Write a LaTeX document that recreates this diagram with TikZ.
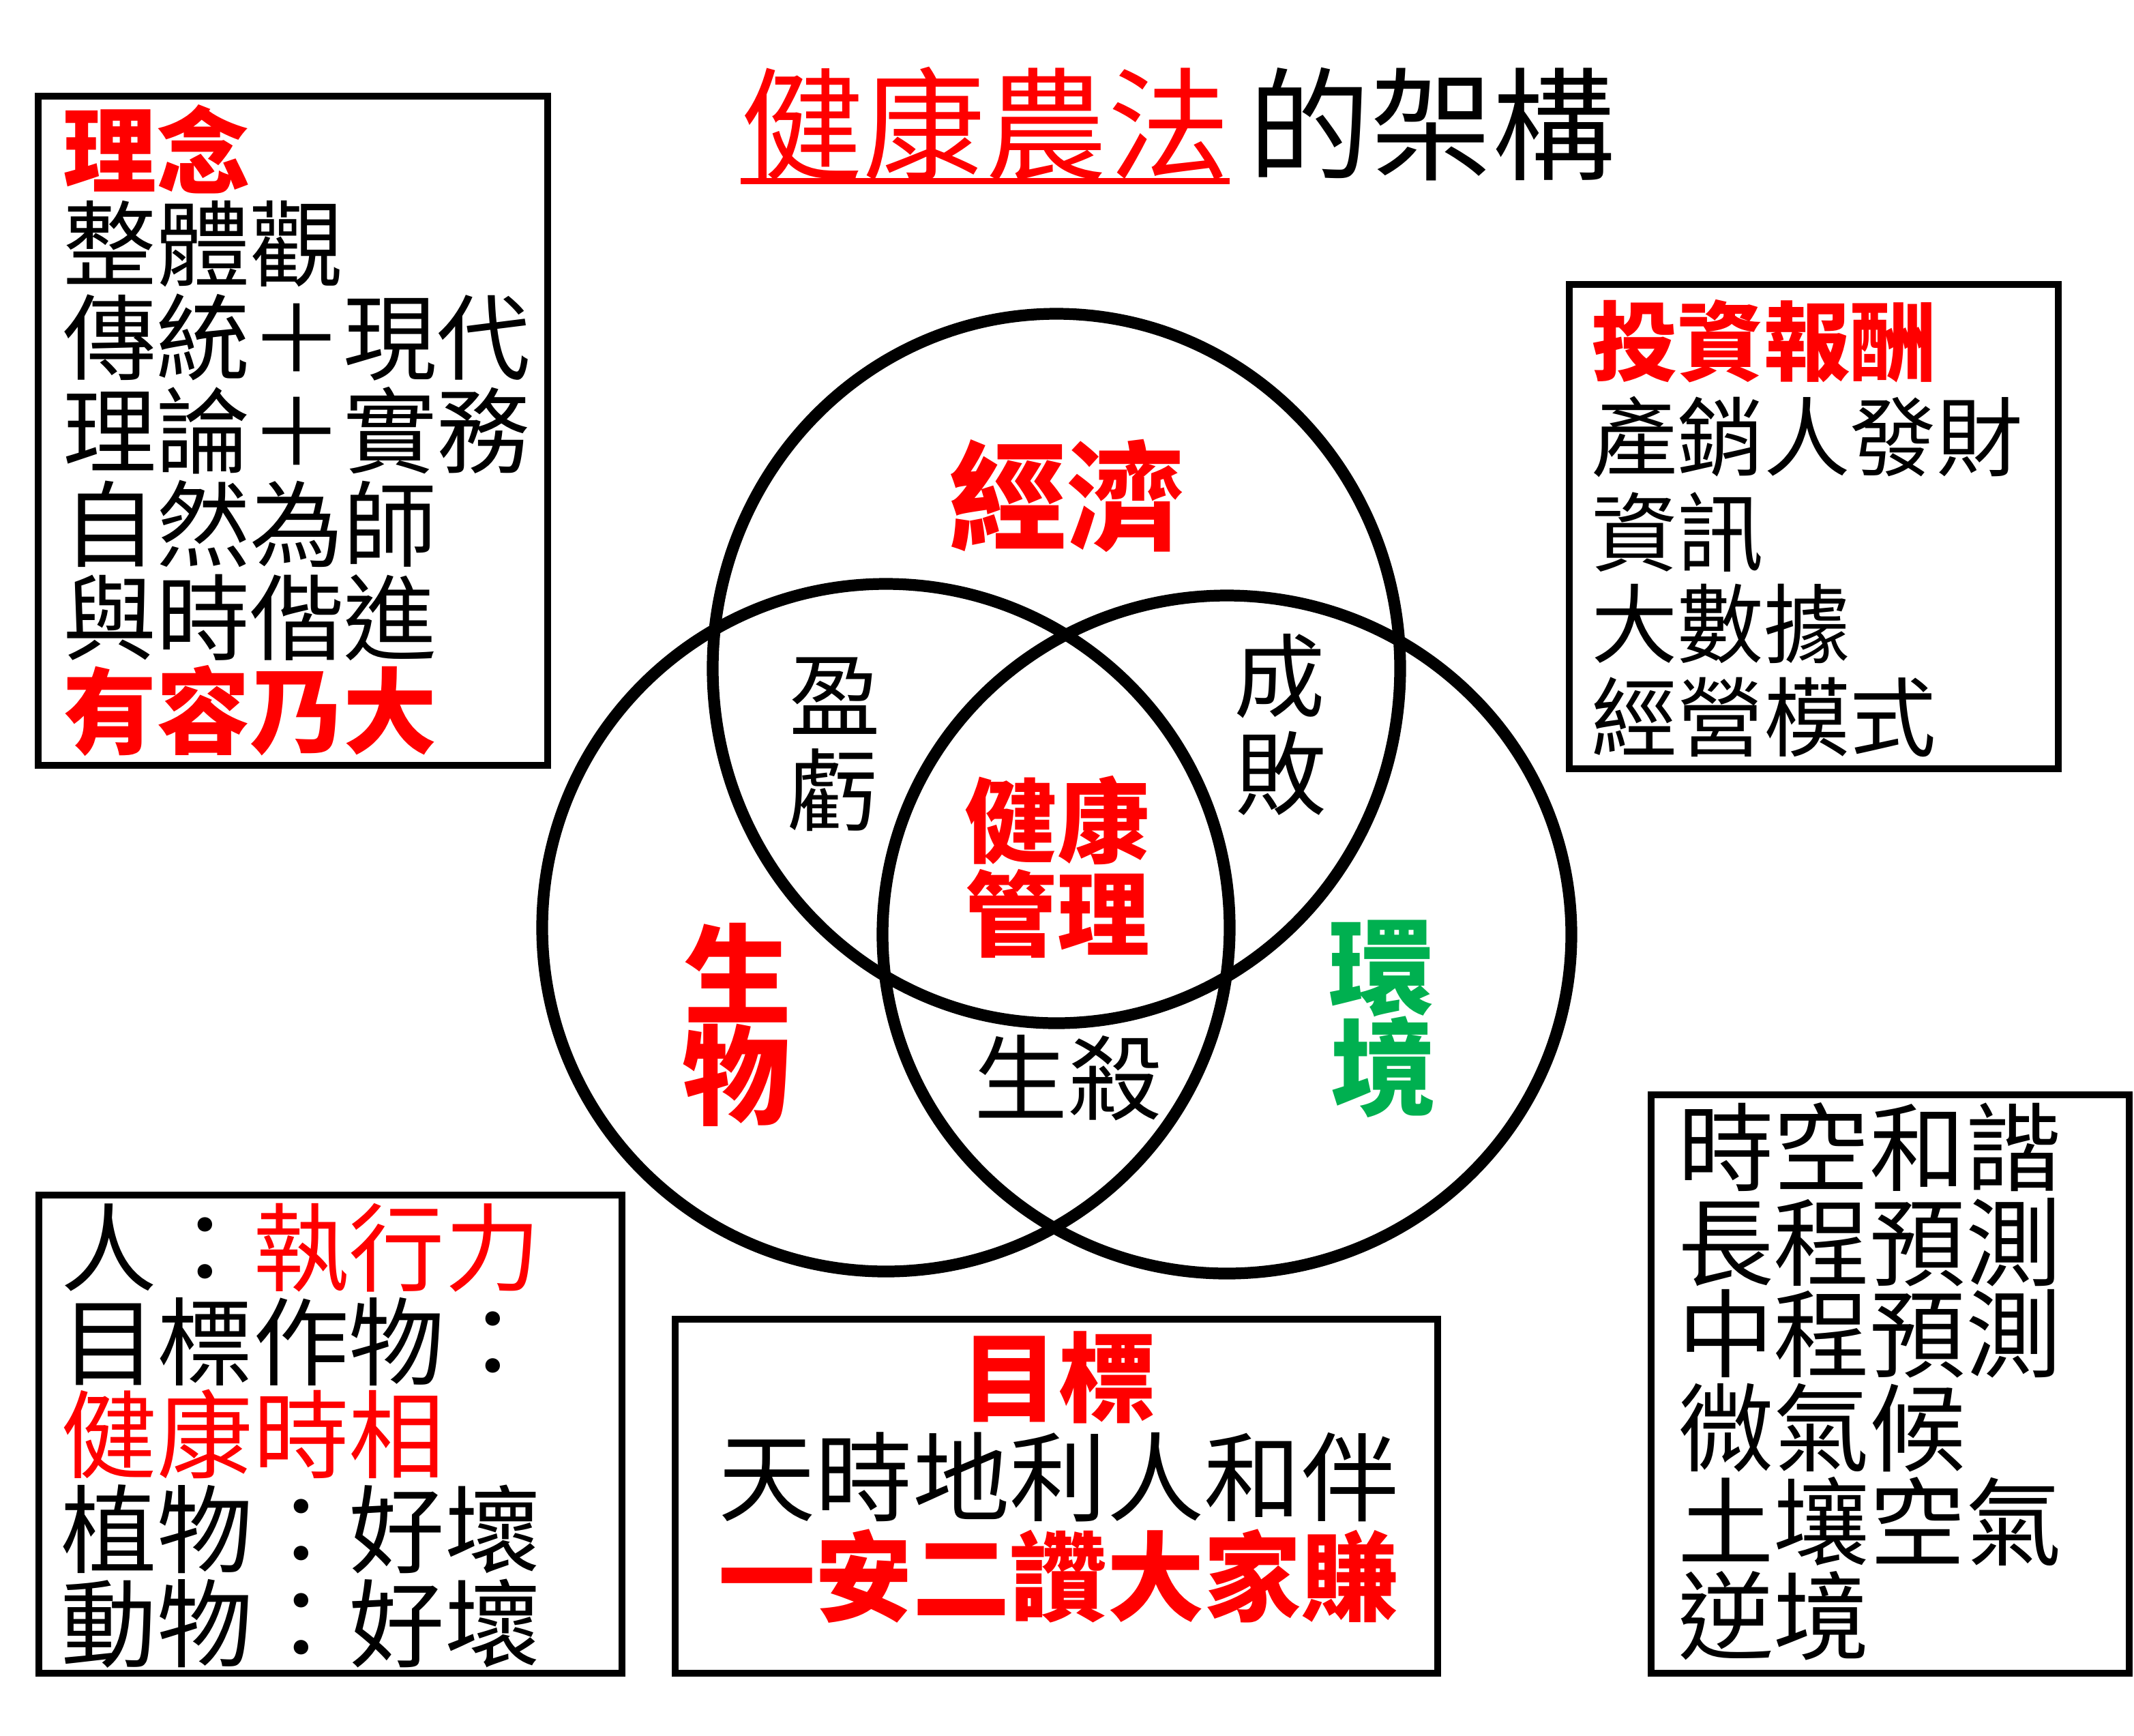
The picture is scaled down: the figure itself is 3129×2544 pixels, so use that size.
\documentclass[tikz,border=0pt]{standalone}
\usepackage{fontspec}
\newfontfamily\cjk{Noto Sans CJK TC}
\definecolor{myred}{RGB}{255,0,0}
\definecolor{mygreen}{RGB}{0,176,80}
\tikzset{
  reg/.style={font=\cjk\fontsize{#1}{#1}\selectfont},
  bld/.style={font=\cjk\bfseries\fontsize{#1}{#1}\selectfont},
  tl/.style={inner sep=0pt, outer sep=0pt, anchor=base west},
  tc/.style={inner sep=0pt, outer sep=0pt, anchor=base},
  boxline/.style={draw=black, line width=2.85pt},
  ring/.style={draw=black, line width=4.9pt},
}
\begin{document}
\begin{tikzpicture}[x=0.01cm, y=-0.01cm]
\fill[white] (0,0) rectangle (3129,2544);
\useasboundingbox (0,0) rectangle (3129,2544);

% title
\node[tl, reg=51pt, text=myred] (title1) at (1086,250) {健康農法};
\node[tl, reg=51pt] (title2) at (1830,250) {的架構};
\draw[myred, line width=2.6pt] (title1.south west) -- (title1.south east);

% circles
\draw[ring] (1549,980) ellipse [x radius=504, y radius=520];
\draw[ring] (1299,1360) ellipse [x radius=504, y radius=504];
\draw[ring] (1799,1370) ellipse [x radius=505, y radius=497];

% venn labels
\node[tc, bld=49pt, text=myred] (econ) at (1564,792) {經濟};
\node[tc, bld=38.5pt, text=myred] (hm1) at (1550,1254) {健康};
\node[tc, bld=38.5pt, text=myred] (hm2) at (1550,1391) {管理};
\node[tc, reg=38pt] (yk1) at (1224,1069) {盈};
\node[tc, reg=38pt] (yk2) at (1221,1209) {虧};
\node[tc, reg=38pt] (cb1) at (1876,1041) {成};
\node[tc, reg=38pt] (cb2) at (1878,1184) {敗};
\node[tc, reg=39pt] (ss) at (1566,1632) {生殺};
\node[tc, bld=45pt, text=myred] (bio1) at (1082,1488) {生};
\node[tc, bld=45pt, text=myred] (bio2) at (1080,1636) {物};
\node[tc, bld=44pt, text=mygreen] (env1) at (2026,1476) {環};
\node[tc, bld=44pt, text=mygreen] (env2) at (2029,1623) {境};

% box: 理念
\draw[boxline] (56,141) rectangle (803,1122);
\node[tl, bld=39pt, text=myred] (a1) at (92,272) {理念};
\node[tl, reg=39pt] (a2) at (92,409) {整體觀};
\node[tl, reg=39pt] (a3) at (92,546) {傳統＋現代};
\node[tl, reg=39pt] (a4) at (92,683) {理論＋實務};
\node[tl, reg=39pt] (a5) at (92,820) {自然為師};
\node[tl, reg=39pt] (a6) at (92,957) {與時偕進};
\node[tl, bld=39pt, text=myred] (a7) at (92,1094) {有容乃大};

% box: 投資報酬
\draw[boxline] (2301,417) rectangle (3018,1127);
\node[tl, bld=36pt, text=myred] (b1) at (2333,548) {投資報酬};
\node[tl, reg=36pt] (b2) at (2333,688) {產銷人發財};
\node[tl, reg=36pt] (b3) at (2333,828) {資訊};
\node[tl, reg=36pt] (b4) at (2333,962) {大數據};
\node[tl, reg=36pt] (b5) at (2333,1099) {經營模式};

% box: 人
\draw[boxline] (57,1752) rectangle (912,2453);
\node[tl, reg=40pt] (c1) at (90,1882) {人：\textcolor{myred}{執行力}};
\node[tl, reg=40pt] (c2) at (90,2020) {目標作物：};
\node[tl, reg=40pt, text=myred] (c3) at (90,2156) {健康時相};
\node[tl, reg=40pt] (c4) at (90,2295) {植物：好壞};
\node[tl, reg=40pt] (c5) at (90,2433) {動物：好壞};

% box: 目標
\draw[boxline] (990,1934) rectangle (2108,2453);
\node[tc, bld=40.5pt, text=myred] (d1) at (1552,2073) {目標};
\node[tc, reg=40.5pt] (d2) at (1552,2219) {天時地利人和伴};
\node[tc, bld=40.5pt, text=myred] (d3) at (1552,2365) {一安二讚大家賺};

% box: 時空和諧
\draw[boxline] (2421,1605) rectangle (3122,2453);
\node[tl, reg=40pt] (e1) at (2460,1735) {時空和諧};
\node[tl, reg=40pt] (e2) at (2460,1874) {長程預測};
\node[tl, reg=40pt] (e3) at (2460,2008) {中程預測};
\node[tl, reg=40pt] (e4) at (2460,2146) {微氣候};
\node[tl, reg=40pt] (e5) at (2460,2284) {土壤空氣};
\node[tl, reg=40pt] (e6) at (2460,2422) {逆境};
\end{tikzpicture}
\end{document}
